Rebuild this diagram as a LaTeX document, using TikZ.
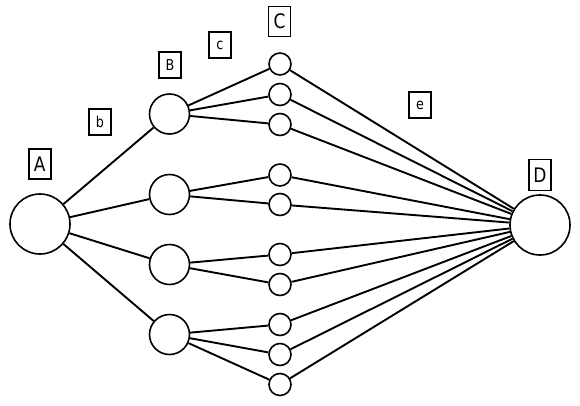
\documentclass[tikz,border=0pt]{standalone}
\usepackage{fontspec}
\setmainfont{DejaVu Sans}
\newfontfamily\tagfont[FakeStretch=0.85]{DejaVu Sans}
\usepackage{tikz}
\usetikzlibrary{positioning}
\tikzset{
  hub/.style={circle,draw,line width=1.6pt,fill=white,minimum size=60pt,inner sep=0pt},
  mid/.style={circle,draw,line width=1.6pt,fill=white,minimum size=40pt,inner sep=0pt},
  leaf/.style={circle,draw,line width=1.6pt,fill=white,minimum size=22pt,inner sep=0pt},
  tag/.style={draw,line width=1.4pt,inner sep=0pt,minimum width=22pt,minimum height=26pt,font=\tagfont\fontsize{15}{17}\selectfont},
  bigtag/.style={tag,minimum height=30pt,font=\tagfont\fontsize{20}{22}\selectfont},
  link/.style={line width=1.9pt}
}
\begin{document}
\begin{tikzpicture}[x=1pt,y=-1pt]
\useasboundingbox (0,0) rectangle (580,405);
% circles
\node[hub](A) at (40,224){};
\node[hub](D) at (540,225){};
\node[mid](B1) at (169.5,114){};
\node[mid](B2) at (169.5,194.5){};
\node[mid](B3) at (169.5,264.5){};
\node[mid](B4) at (169.5,334.5){};
\node[leaf](C1) at (280,64){};
\node[leaf](C2) at (280,94.5){};
\node[leaf](C3) at (280,124.5){};
\node[leaf](C4) at (280,175){};
\node[leaf](C5) at (280,204.5){};
\node[leaf](C6) at (280,254.5){};
\node[leaf](C7) at (280,284.5){};
\node[leaf](C8) at (280,324.5){};
\node[leaf](C9) at (280,354.5){};
\node[leaf](C10) at (280,384.5){};
% boxed labels
\node[bigtag](tA) at (39.8,164){A};
\node[tag](tb) at (100,122){b};
\node[tag](tB) at (170,65){B};
\node[tag](tc) at (220,45){c};
\node[bigtag](tC) at (279.5,21.5){C};
\node[tag](te) at (420,105){e};
\node[bigtag,minimum height=31pt](tD) at (540,175){D};
% A to B
\draw[link](A)--(B1);
\draw[link](A)--(B2);
\draw[link](A)--(B3);
\draw[link](A)--(B4);
% B to C
\draw[link](B1)--(C1);
\draw[link](B1)--(C2);
\draw[link](B1)--(C3);
\draw[link](B2)--(C4);
\draw[link](B2)--(C5);
\draw[link](B3)--(C6);
\draw[link](B3)--(C7);
\draw[link](B4)--(C8);
\draw[link](B4)--(C9);
\draw[link](B4)--(C10);
% C to D
\draw[link](C1)--(D);
\draw[link](C2)--(D);
\draw[link](C3)--(D);
\draw[link](C4)--(D);
\draw[link](C5)--(D);
\draw[link](C6)--(D);
\draw[link](C7)--(D);
\draw[link](C8)--(D);
\draw[link](C9)--(D);
\draw[link](C10)--(D);
\end{tikzpicture}
\end{document}
